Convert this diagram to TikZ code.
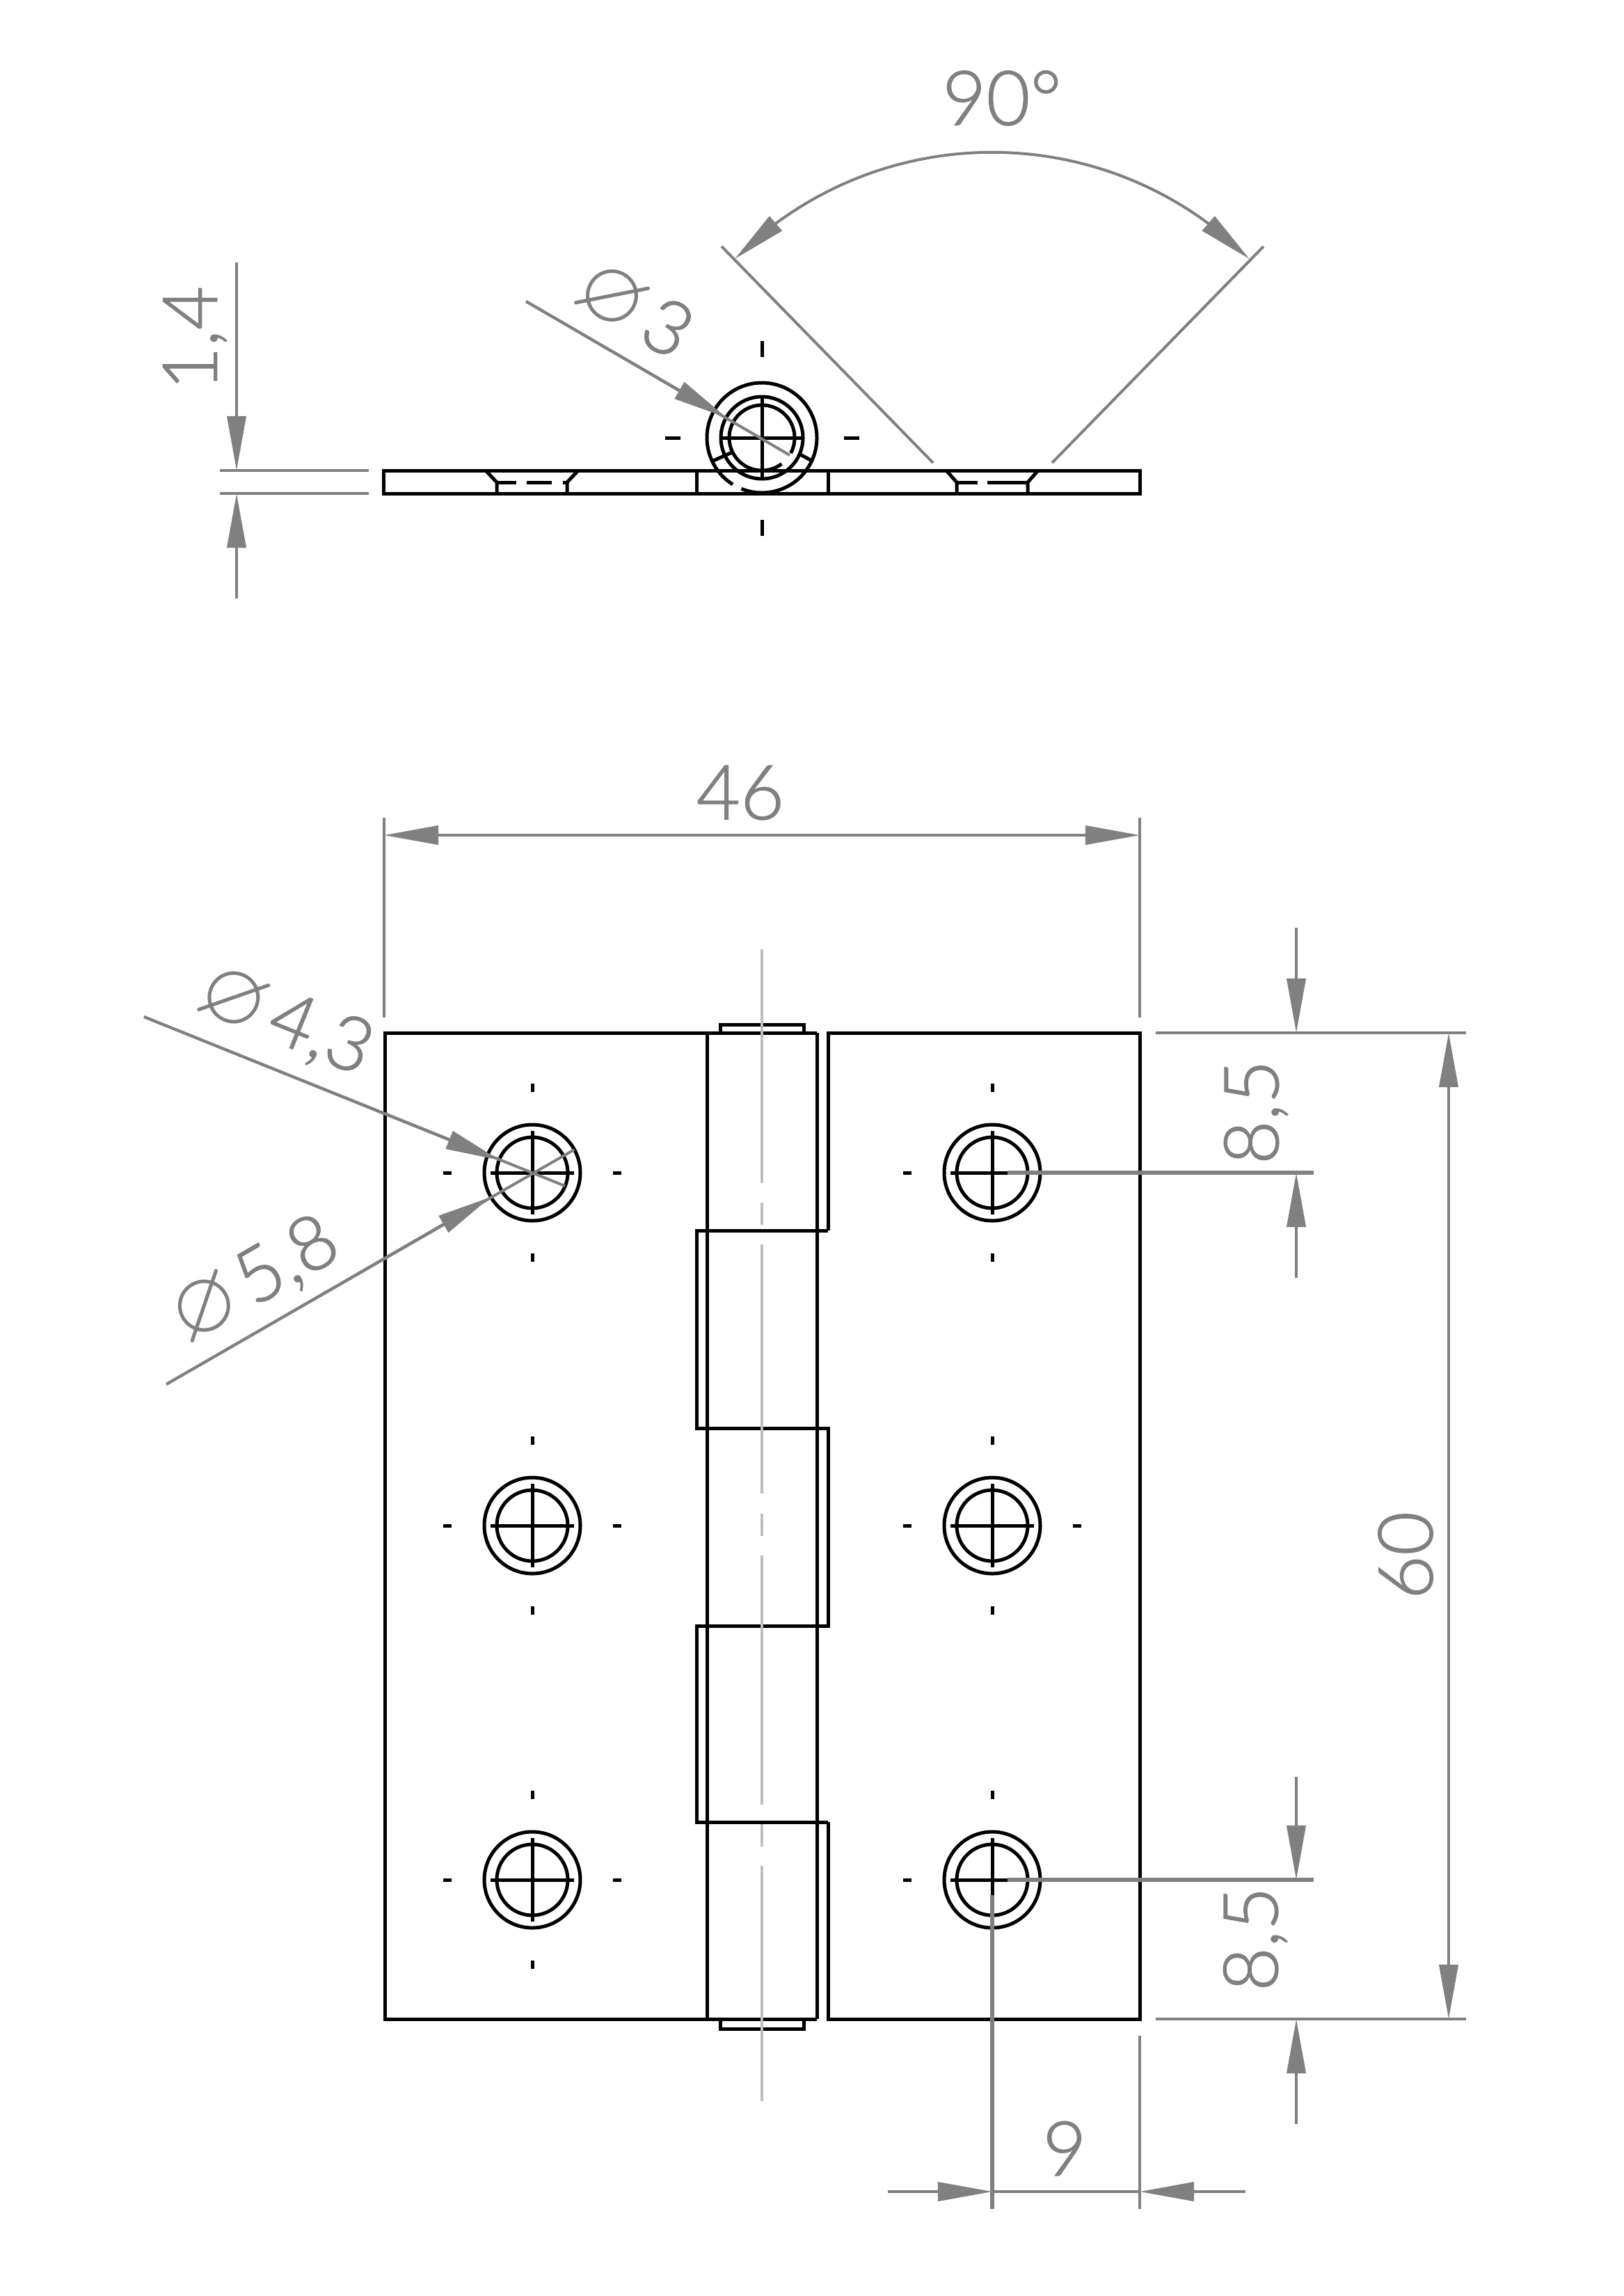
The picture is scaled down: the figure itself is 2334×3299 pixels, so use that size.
\documentclass[tikz,border=0pt]{standalone}
\usepackage{amssymb}
\usepackage{fontspec}
\setmainfont{Lato}[UprightFont=* Light, FakeBold=1.2]
\usetikzlibrary{arrows.meta,bending}
\definecolor{dimgray}{HTML}{808080}
\definecolor{axisgray}{HTML}{BEBEBE}
\newcommand{\dia}{\scalebox{1.17}{$\varnothing$}\kern.1em}
\tikzset{
  part/.style={black, line width=.05cm, line join=miter},
  dimline/.style={dimgray, line width=.04cm},
  axisline/.style={axisgray, line width=.035cm},
  dimtext/.style={dimgray, inner sep=0pt, font=\fontsize{31pt}{31pt}\selectfont},
  >={Triangle[length=.78cm,width=.27cm]}
}

\begin{document}
\begin{tikzpicture}[x=.01cm,y=-.01cm]

\useasboundingbox (0,0) rectangle (2334,3299);

\draw[part] (551,676) rectangle (1638,709);
\draw[part] (1001,676) -- (1001,709);
\draw[part] (1190,676) -- (1190,709);

\draw[part] (698,676) -- (714,693) -- (714,709);
\draw[part] (831,676) -- (815,693) -- (815,709);
\draw[part, dash pattern=on .28cm off .15cm on .36cm off .16cm] (714,693) -- (815,693);
\draw[part] (1360,676) -- (1375,693) -- (1375,709);
\draw[part] (1492,676) -- (1477,693) -- (1477,709);
\draw[part, dash pattern=on .3cm off .14cm on .6cm off .1cm] (1375,693) -- (1477,693);

\draw[part] (1095,629) circle[radius=59];
\draw[part] (1095,629) ++(122:79) arc[start angle=122, end angle=472, radius=79];
\draw[part] (1095,629) ++(53:47) arc[start angle=53, end angle=388, radius=47];
\draw[part] (1036,629) -- (1154,629);
\draw[part] (1095,570) -- (1095,688);
\draw[part] (1025,662) -- (1052,650);
\draw[part] (1150,653) -- (1165,661);
\draw[part] (956,629) -- (978,629);
\draw[part] (1213,629) -- (1235,629);
\draw[part] (1095,490) -- (1095,513);
\draw[part] (1095,747) -- (1095,770);

\draw[part] (1174,1484) -- (553,1484) -- (553,2901) -- (1174,2901);
\draw[part] (1016,1484) -- (1016,2901);
\draw[part] (1174,1484) -- (1174,2901);
\draw[part] (1190,1768) -- (1190,1484) -- (1638,1484) -- (1638,2901) -- (1190,2901) -- (1190,2618);
\draw[part] (1190,1768) -- (1001,1768) -- (1001,2052) -- (1190,2052) -- (1190,2336) -- (1001,2336) -- (1001,2618) -- (1190,2618);
\draw[part] (1035,1484) -- (1035,1472) -- (1155,1472) -- (1155,1484);
\draw[part] (1035,2901) -- (1035,2915) -- (1155,2915) -- (1155,2901);

\draw[axisline, dash pattern=on 3.58cm off .28cm on .32cm off .28cm, dash phase=.22cm] (1095,1364) -- (1095,3019);

\foreach \hx in {765,1426} {
  \foreach \hy in {1685,2192,2701} {
    \draw[part] (\hx,\hy) circle[radius=69];
    \draw[part] (\hx,\hy) circle[radius=51];
    \draw[part] (\hx-60,\hy) -- (\hx+60,\hy);
    \draw[part] (\hx,\hy-60) -- (\hx,\hy+60);
    \draw[part] (\hx-128,\hy) -- (\hx-116,\hy);
    \draw[part] (\hx+116,\hy) -- (\hx+128,\hy);
    \draw[part] (\hx,\hy-128) -- (\hx,\hy-116);
    \draw[part] (\hx,\hy+116) -- (\hx,\hy+128);
  }
}

\draw[dimline] (316,676) -- (530,676);
\draw[dimline] (316,709) -- (530,709);
\draw[dimline, ->] (340,377) -- (340,676);
\draw[dimline, ->] (340,860) -- (340,709);
\node(thick)[dimtext, rotate=90] at (280,486) {1,4};

\draw[dimline] (1037,354) -- (1341,665);
\draw[dimline] (1816,354) -- (1512,665);
\draw[dimline, <->] (1056,372) arc[start angle=-135, end angle=-45, radius=523];
\node(angle)[dimtext] at (1440,141) {90°};

\draw[dimline] (756,433) -- (1135,654);
\draw[dimline, ->] (756,433) -- (1044,600);
\node(pin)[dimtext, rotate=-30] at (910,447) {\dia 3};

\draw[dimline] (552,1175) -- (552,1462);
\draw[dimline] (1638,1175) -- (1638,1462);
\draw[dimline, <->] (552,1200) -- (1638,1200);
\node(width)[dimtext] at (1064,1139) {46};

\draw[dimline] (207,1461) -- (812,1704);
\draw[dimline, ->] (207,1461) -- (718,1667);
\node(hole)[dimtext, rotate=-22] at (409,1468) {\dia 4,3};

\draw[dimline] (239,1989) -- (825,1652);
\draw[dimline, ->] (239,1989) -- (705,1720);
\node(head)[dimtext, rotate=30] at (366,1841) {\dia 5,8};

\draw[dimline] (1661,1484) -- (2107,1484);
\draw[dimline] (1661,2901) -- (2107,2901);
\draw[dimline, line width=.052cm] (1448,1685) -- (1888,1685);
\draw[dimline, line width=.052cm] (1448,2701) -- (1888,2701);
\draw[dimline, ->] (1863,1333) -- (1863,1484);
\draw[dimline, ->] (1863,1836) -- (1863,1685);
\node(edgetop)[dimtext, rotate=90] at (1805,1598) {8,5};
\draw[dimline, ->] (1863,2553) -- (1863,2701);
\draw[dimline, ->] (1863,3052) -- (1863,2901);
\node(edgebot)[dimtext, rotate=90] at (1804,2786) {8,5};

\draw[dimline, <->] (2082,1484) -- (2082,2901);
\node(height)[dimtext, rotate=90] at (2020,2235) {60};

\draw[dimline, line width=.052cm] (1426,2723) -- (1426,3174);
\draw[dimline] (1638,2925) -- (1638,3174);
\draw[dimline, ->] (1276,3149) -- (1426,3149);
\draw[dimline, ->] (1790,3149) -- (1638,3149);
\draw[dimline] (1426,3149) -- (1638,3149);
\node(edgeside)[dimtext] at (1530,3087) {9};

\end{tikzpicture}
\end{document}
